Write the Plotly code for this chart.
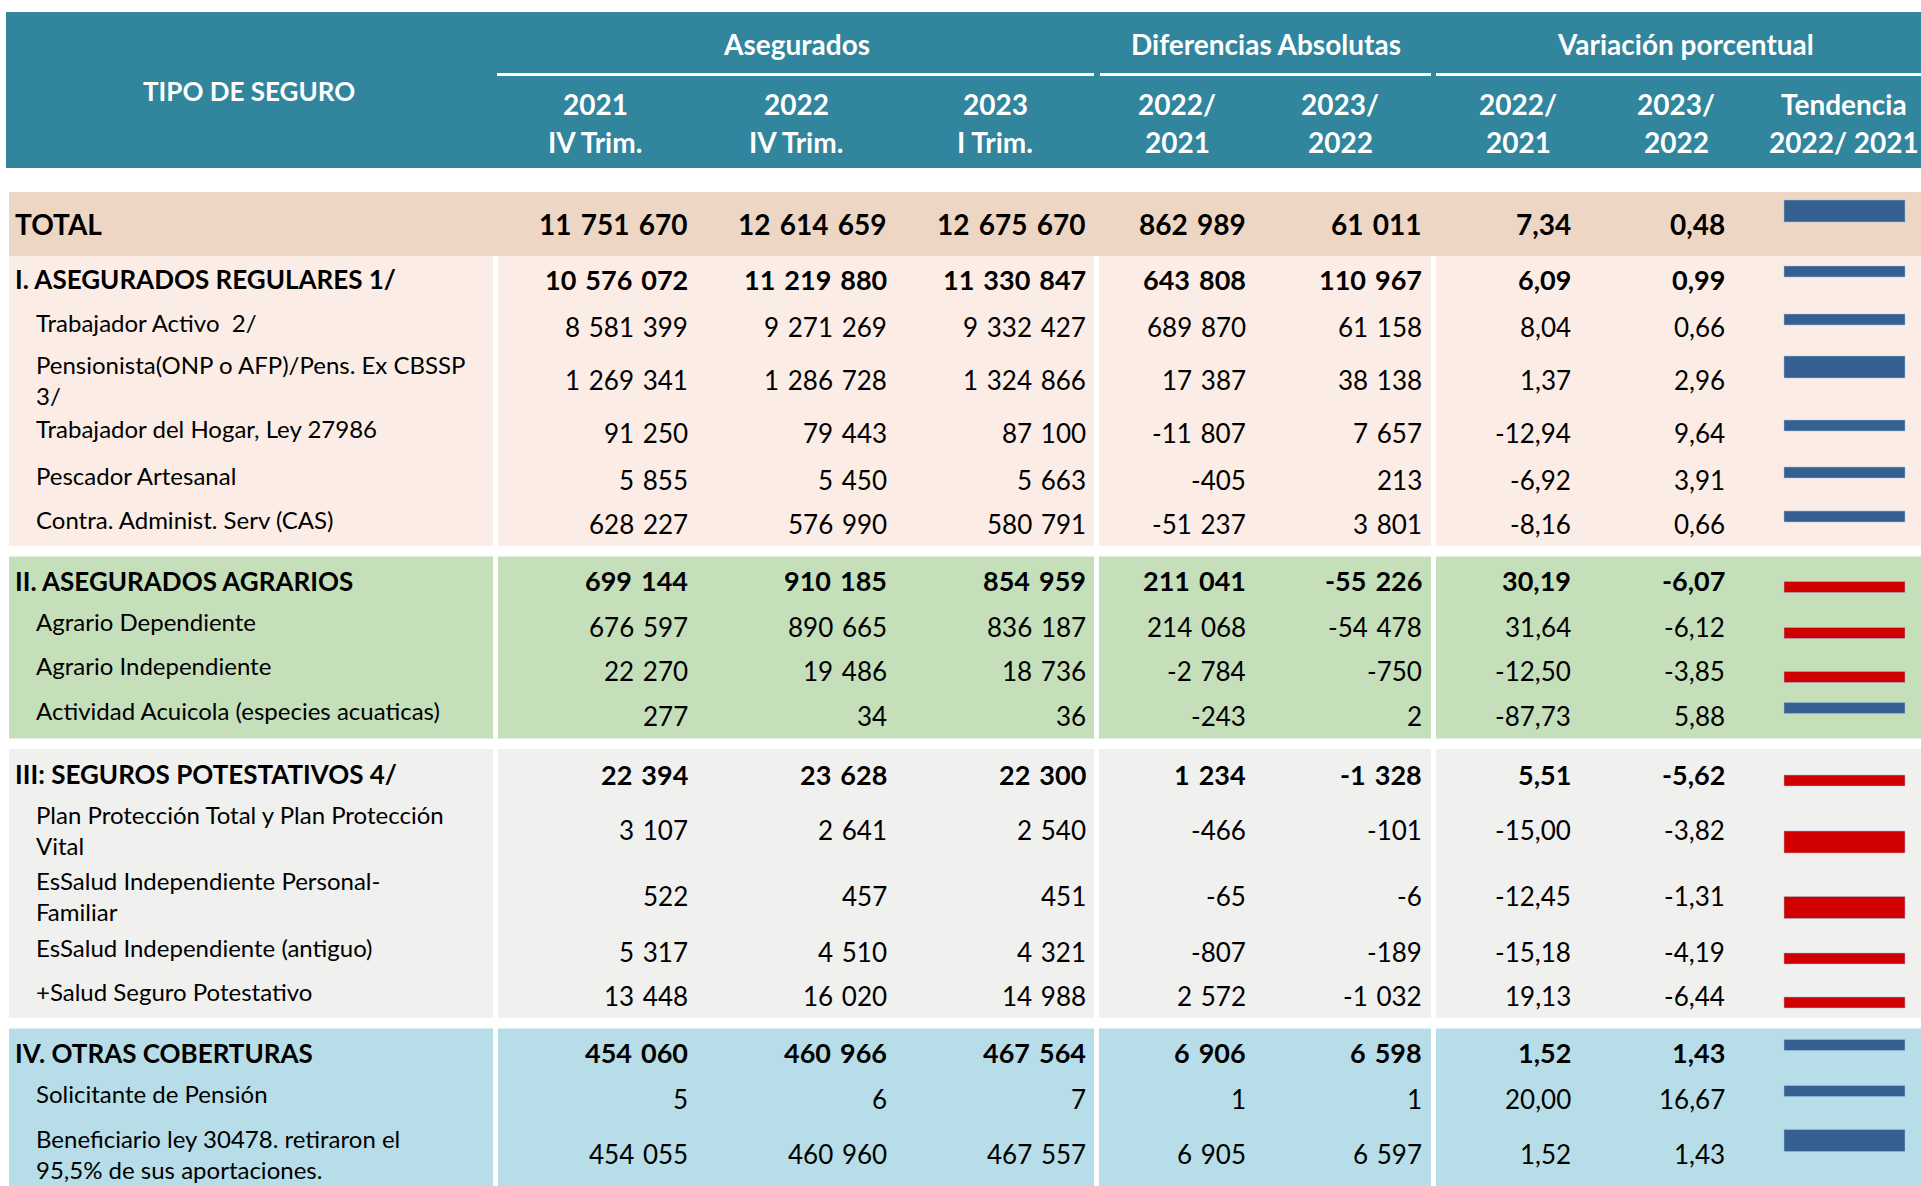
import plotly.graph_objects as go

# ---- data -------------------------------------------------------------
labels = [
    "TOTAL",
    "I. ASEGURADOS REGULARES 1/",
    "Trabajador Activo  2/",
    "Pensionista(ONP o AFP)/Pens. Ex CBSSP<br>3/",
    "Trabajador del Hogar, Ley 27986",
    "Pescador Artesanal",
    "Contra. Administ. Serv (CAS)",
    "II. ASEGURADOS AGRARIOS",
    "Agrario Dependiente",
    "Agrario Independiente",
    "Actividad Acuicola (especies acuaticas)",
    "III: SEGUROS POTESTATIVOS 4/",
    "Plan Protección Total y Plan Protección<br>Vital",
    "EsSalud Independiente Personal-<br>Familiar",
    "EsSalud Independiente (antiguo)",
    "+Salud Seguro Potestativo",
    "IV. OTRAS COBERTURAS",
    "Solicitante de Pensión",
    "Beneficiario ley 30478. retiraron el<br>95,5% de sus aportaciones.",
]
row_level = ["total", "section", "item", "item", "item", "item", "item",
             "section", "item", "item", "item",
             "section", "item", "item", "item", "item",
             "section", "item", "item"]
row_group = [0, 1, 1, 1, 1, 1, 1, 2, 2, 2, 2, 3, 3, 3, 3, 3, 4, 4, 4]

aseg_2021 = [11751670, 10576072, 8581399, 1269341, 91250, 5855, 628227,
             699144, 676597, 22270, 277, 22394, 3107, 522, 5317, 13448,
             454060, 5, 454055]
aseg_2022 = [12614659, 11219880, 9271269, 1286728, 79443, 5450, 576990,
             910185, 890665, 19486, 34, 23628, 2641, 457, 4510, 16020,
             460966, 6, 460960]
aseg_2023 = [12675670, 11330847, 9332427, 1324866, 87100, 5663, 580791,
             854959, 836187, 18736, 36, 22300, 2540, 451, 4321, 14988,
             467564, 7, 467557]
dif_22_21 = [862989, 643808, 689870, 17387, -11807, -405, -51237,
             211041, 214068, -2784, -243, 1234, -466, -65, -807, 2572,
             6906, 1, 6905]
dif_23_22 = [61011, 110967, 61158, 38138, 7657, 213, 3801,
             -55226, -54478, -750, 2, -1328, -101, -6, -189, -1032,
             6598, 1, 6597]
var_22_21 = [7.34, 6.09, 8.04, 1.37, -12.94, -6.92, -8.16,
             30.19, 31.64, -12.50, -87.73, 5.51, -15.00, -12.45, -15.18, 19.13,
             1.52, 20.00, 1.52]
var_23_22 = [0.48, 0.99, 0.66, 2.96, 9.64, 3.91, 0.66,
             -6.07, -6.12, -3.85, 5.88, -5.62, -3.82, -1.31, -4.19, -6.44,
             1.43, 16.67, 1.43]

group_titles = ["Asegurados", "Diferencias Absolutas", "Variación porcentual"]
col_titles = [("2021", "IV Trim."), ("2022", "IV Trim."), ("2023", "I Trim."),
              ("2022/", "2021"), ("2023/", "2022"),
              ("2022/", "2021"), ("2023/", "2022"), ("Tendencia", "2022/ 2021")]

# ---- layout / style ---------------------------------------------------
W, H = 1921, 1186
FONT = "Lato"
HEAD_BG = "#31859C"
BAND = {0: "#EED6C4", 1: "#FBEDE5", 2: "#C4DFBA", 3: "#F0F0EF", 4: "#B7DEE8"}
BLUE, RED = "#376092", "#D00000"

row_heights = [64, 46, 50, 56, 50, 44, 44, 48, 44, 44, 46,
               50, 62, 69, 44, 44, 48, 44, 66]
table_top = 192
section_gap = 10.5

# column blocks (x ranges) and right edges of numbers
blocks = [(9, 493), (498, 1094), (1099, 1431), (1436, W)]
num_right = [690, 889, 1088, 1248, 1424, 1573, 1727]
head_center = [595, 796, 995, 1177, 1340, 1518, 1676, 1844]
group_center = [796, 1266, 1685]
group_line = [(497, 1094), (1100, 1431), (1436, W)]
bar_x = (1784, 1905)

# font sizes and thousands separator per row level
LEVEL_STYLE = {
    "total": dict(label=28, num=28, bold=True, sep="\u2004"),
    "section": dict(label=26, num=27, bold=True, sep="\u2004"),
    "item": dict(label=24, num=26, bold=False, sep="\u2004"),
}


def fmt_int(v, sep):
    s = f"{abs(v):,}".replace(",", sep)
    return ("-" if v < 0 else "") + s


def fmt_pct(v):
    return f"{v:.2f}".replace(".", ",")


# row geometry
tops, bottoms = [], []
y = table_top
for i, h in enumerate(row_heights):
    if i > 0 and row_group[i] != row_group[i - 1] and row_group[i - 1] != 0:
        y += section_gap
    tops.append(y)
    y += h
    bottoms.append(y)
centers = [(t + b) / 2 for t, b in zip(tops, bottoms)]

shapes = []
annotations = []

# header
shapes.append(dict(type="rect", x0=6, x1=W, y0=12, y1=168,
                   fillcolor=HEAD_BG, line_width=0, layer="below"))
for x0, x1 in group_line:
    shapes.append(dict(type="rect", x0=x0, x1=x1, y0=73, y1=76,
                       fillcolor="white", line_width=0))
hfont = dict(family=FONT, size=28, color="white", weight="bold")
annotations.append(dict(x=249, y=91, text="TIPO DE SEGURO", showarrow=False,
                        xanchor="center", yanchor="middle",
                        font=dict(hfont, size=26)))
for t, xc in zip(group_titles, group_center):
    annotations.append(dict(x=xc, y=44, text=t, showarrow=False,
                            xanchor="center", yanchor="middle", font=hfont))
for (l1, l2), xc in zip(col_titles, head_center):
    annotations.append(dict(x=xc, y=104, text=l1, showarrow=False,
                            xanchor="center", yanchor="middle", font=hfont))
    annotations.append(dict(x=xc, y=142, text=l2, showarrow=False,
                            xanchor="center", yanchor="middle", font=hfont))

# background bands
for g in sorted(set(row_group)):
    idx = [i for i, gg in enumerate(row_group) if gg == g]
    y0, y1 = tops[idx[0]], bottoms[idx[-1]]
    if g == 0:
        shapes.append(dict(type="rect", x0=blocks[0][0], x1=W, y0=y0, y1=y1,
                           fillcolor=BAND[g], line_width=0, layer="below"))
    else:
        for x0, x1 in blocks:
            shapes.append(dict(type="rect", x0=x0, x1=x1, y0=y0, y1=y1,
                               fillcolor=BAND[g], line_width=0, layer="below"))

# cells
for i, lab in enumerate(labels):
    lvl = row_level[i]
    st = LEVEL_STYLE[lvl]
    c = centers[i]
    weight = "bold" if st["bold"] else "normal"
    lf = dict(family=FONT, size=st["label"], color="black", weight=weight)
    nf = dict(family=FONT, size=st["num"], color="black", weight=weight)
    if lvl == "item":
        lx = 34
        ly = c if "<br>" in lab else c - 5
    else:
        lx, ly = 13, c
    annotations.append(dict(x=lx, y=ly, text=lab, showarrow=False, align="left",
                            xanchor="left", yanchor="middle", font=lf))
    sep = st["sep"]
    cells = [fmt_int(aseg_2021[i], sep), fmt_int(aseg_2022[i], sep),
             fmt_int(aseg_2023[i], sep), fmt_int(dif_22_21[i], sep),
             fmt_int(dif_23_22[i], sep), fmt_pct(var_22_21[i]),
             fmt_pct(var_23_22[i])]
    for txt, xr in zip(cells, num_right):
        annotations.append(dict(x=xr, y=c, text=txt, showarrow=False,
                                xanchor="right", yanchor="middle", font=nf))

    # win/loss trend bar (sign of 2023/2022 variation)
    bh = 11 if row_heights[i] < 52 else 22
    if var_23_22[i] >= 0:
        y0, y1 = c - 2 - bh, c - 2
        col = BLUE
    else:
        y0, y1 = c + 1, c + 1 + bh
        col = RED
    shapes.append(dict(type="rect", x0=bar_x[0], x1=bar_x[1], y0=y0, y1=y1,
                       fillcolor=col, line=dict(color="#9DC3E6", width=0.5)))

fig = go.Figure()
fig.add_trace(go.Scatter(x=[0, W], y=[0, H], mode="markers",
                         marker=dict(opacity=0), hoverinfo="skip",
                         showlegend=False))
fig.update_layout(
    width=W, height=H,
    margin=dict(l=0, r=0, t=0, b=0),
    paper_bgcolor="white", plot_bgcolor="white",
    xaxis=dict(range=[0, W], visible=False, fixedrange=True),
    yaxis=dict(range=[H, 0], visible=False, fixedrange=True),
    shapes=shapes,
    annotations=annotations,
    showlegend=False,
)
fig.write_html(
    "out.html",
    config={"displayModeBar": False},
    post_script="document.body.style.margin='0';document.body.style.overflow='hidden';",
)
